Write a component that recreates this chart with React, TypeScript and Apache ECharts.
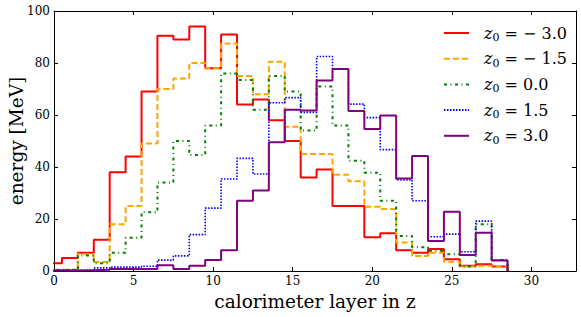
import React, { useEffect, useRef } from "react";
import * as echarts from "echarts";

// bin centres (calorimeter layer index)
const layers = [0, 1, 2, 3, 4, 5, 6, 7, 8, 9, 10, 11, 12, 13, 14, 15, 16, 17, 18, 19, 20, 21, 22, 23, 24, 25, 26, 27, 28];

const zMinus30 = [3, 5, 7, 12, 38, 44, 69, 90.5, 89, 94, 78, 91, 64, 66, 58, 50, 36, 39, 25, 25, 13, 14.5, 8, 7, 8.5, 4.5, 2, 2.6, 1.7];
const zMinus15 = [0.5, 0.5, 6.5, 3.5, 18, 25, 49, 70, 74, 80, 78, 87.5, 75, 68, 80.5, 55.5, 45, 45, 37, 34.5, 24.7, 23.8, 11, 5.8, 7, 3.6, 1.7, 2, 1.7];
const zZero = [0.3, 0.5, 6, 3, 7, 12.8, 22.6, 34, 50, 44.6, 56, 76, 73.5, 62, 75, 69, 54, 71, 56, 42.4, 37.8, 27, 13.5, 9.1, 7.8, 6.4, 1.7, 18, 4.2];
const zPlus15 = [0.5, 0.3, 0.5, 1.2, 1.5, 1.5, 1.8, 4.2, 5.8, 14, 24.2, 35.4, 43.3, 37.3, 64.7, 66.7, 61, 82.5, 77.6, 64.2, 59, 46.7, 35, 27, 13.2, 14.2, 7.4, 19.2, 4.2];
const zPlus30 = [0.2, 0.2, 0.3, 0.5, 0.8, 0.8, 0.8, 2.2, 0.8, 2, 4.2, 8, 27, 31, 49.5, 62, 61.7, 73.3, 77.7, 61.5, 54.6, 59.8, 35.6, 44.2, 11.5, 22.8, 6.2, 14.7, 4];

const seriesNames = ["z0=-3.0", "z0=-1.5", "z0=0.0", "z0=1.5", "z0=3.0"];
const legendValues = ["− 3.0", "− 1.5", "0.0", "1.5", "3.0"];
const xTicks = [0, 5, 10, 15, 20, 25, 30];
const yTicks = [0, 20, 40, 60, 80, 100];

const allValues = [zMinus30, zMinus15, zZero, zPlus15, zPlus30];
const colors = ["#ff0000", "#ffa500", "#008000", "#0000ff", "#800080"];
const lineTypes: any[] = ["solid", [6, 3], [3, 3.5, 1, 3.5], [1.5, 1.5], "solid"];
const lineWidths = [2, 2, 2, 1.6, 2];

function stepData(centers: number[], values: number[]) {
  const pts: number[][] = [[centers[0] - 0.5, 0]];
  centers.forEach((c, i) => pts.push([c - 0.5, values[i]]));
  const last = centers.length - 1;
  pts.push([centers[last] + 0.5, values[last]]);
  pts.push([centers[last] + 0.5, 0]);
  return pts;
}

const FONT = "DejaVu Serif";

export default function App() {
  const ref = useRef<HTMLDivElement>(null);
  useEffect(() => {
    const chart = echarts.init(ref.current!, null, { renderer: "svg" });
    const frameAxis = {
      axisLine: { show: true, onZero: false, lineStyle: { color: "#000", width: 1 } },
      splitLine: { show: false },
    };
    const option: any = {
      animation: false,
      backgroundColor: "#fff",
      grid: { left: 54, right: 5, top: 11, bottom: 46, containLabel: false, outerBoundsMode: "none" },
      xAxis: [
        {
          type: "value",
          min: 0,
          max: 32.8,
          position: "bottom",
          ...frameAxis,
          axisTick: { inside: true, length: 4, customValues: xTicks, lineStyle: { color: "#000" } },
          axisLabel: { customValues: xTicks, color: "#000", fontFamily: FONT, fontSize: 12, margin: 4 },
          name: "calorimeter layer in z",
          nameLocation: "middle",
          nameGap: 18,
          nameTextStyle: { color: "#000", fontFamily: FONT, fontSize: 18.5 },
        },
        {
          type: "value",
          min: 0,
          max: 32.8,
          position: "top",
          ...frameAxis,
          axisTick: { inside: true, length: 4, customValues: xTicks, lineStyle: { color: "#000" } },
          axisLabel: { show: false },
        },
      ],
      yAxis: [
        {
          type: "value",
          min: 0,
          max: 100,
          interval: 20,
          position: "left",
          ...frameAxis,
          axisTick: { inside: true, length: 4, customValues: yTicks, lineStyle: { color: "#000" } },
          axisLabel: { customValues: yTicks, color: "#000", fontFamily: FONT, fontSize: 12, margin: 4 },
          name: "energy [MeV]",
          nameLocation: "middle",
          nameGap: 28,
          nameMoveOverlap: false,
          nameTextStyle: { color: "#000", fontFamily: FONT, fontSize: 18.5 },
        },
        {
          type: "value",
          min: 0,
          max: 100,
          interval: 20,
          position: "right",
          ...frameAxis,
          axisTick: { inside: true, length: 4, customValues: yTicks, lineStyle: { color: "#000" } },
          axisLabel: { show: false },
        },
      ],
      legend: {
        orient: "vertical",
        left: 438,
        top: 20,
        itemWidth: 25,
        itemHeight: 10,
        itemGap: 7.7,
        itemStyle: { opacity: 0 },
        data: seriesNames,
        formatter: (name: string) => {
          const i = seriesNames.indexOf(name);
          return `{z|z}{s|0}{t| = ${legendValues[i]}}`;
        },
        textStyle: {
          color: "#000",
          rich: {
            z: { fontFamily: FONT, fontStyle: "italic", fontSize: 16, lineHeight: 20, padding: [0, 0, 0, 10], verticalAlign: "middle" },
            s: { fontFamily: FONT, fontSize: 11, lineHeight: 11, verticalAlign: "bottom" },
            t: { fontFamily: FONT, fontSize: 16, lineHeight: 20, verticalAlign: "middle" },
          },
        },
      },
      series: allValues.map((vals, i) => ({
        name: seriesNames[i],
        type: "line",
        step: "end",
        symbol: "none",
        showSymbol: false,
        clip: true,
        xAxisIndex: 0,
        yAxisIndex: 0,
        data: stepData(layers, vals),
        itemStyle: { color: colors[i] },
        lineStyle: { color: colors[i], width: lineWidths[i], type: lineTypes[i] },
      })),
    };
    chart.setOption(option);
    return () => chart.dispose();
  }, []);
  return (
    <div
      ref={ref}
      style={{ position: "fixed", left: 0, top: 0, width: 581, height: 317, background: "#fff" }}
    />
  );
}
